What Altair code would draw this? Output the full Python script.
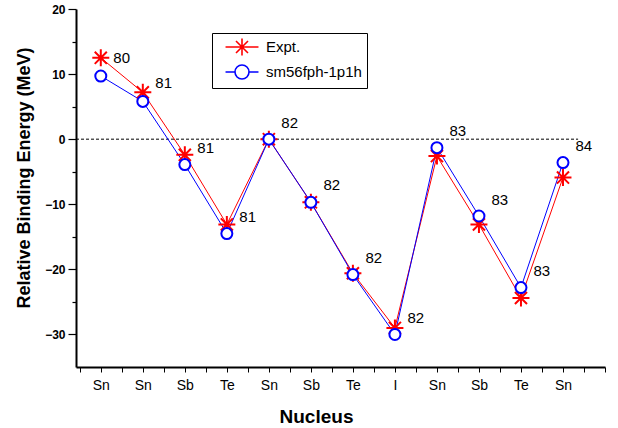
import json
import altair as alt
import pandas as pd

# ---- data ----
nuclei = ["Sn", "Sn", "Sb", "Te", "Sn", "Sb", "Te", "I", "Sn", "Sb", "Te", "Sn"]
neutrons = [80, 81, 81, 81, 82, 82, 82, 82, 83, 83, 83, 84]
expt = [12.5, 7.2, -2.4, -13.1, 0.0, -9.7, -20.6, -29.0, -2.6, -13.1, -24.4, -5.9]
model = [9.7, 5.8, -3.9, -14.5, 0.0, -9.7, -20.8, -30.0, -1.3, -11.8, -22.8, -3.6]
label_y = [12.5, 8.7, -1.3, -11.9, 2.5, -7.1, -18.2, -27.4, 1.3, -9.3, -20.2, -1.0]
series_names = ["Expt.", "sm56fph-1p1h"]
y_major = [-30, -20, -10, 0, 10, 20]
y_minor = [15, 5, -5, -15, -25]
x_ticks = [0.5 * i for i in range(1, 27)]

FONT = "Liberation Sans"
RED = "#FF0000"
BLUE = "#0000FF"

pos = list(range(1, len(nuclei) + 1))
df = pd.DataFrame({
    "pos": pos,
    "nucleus": nuclei,
    "N": [str(n) for n in neutrons],
    "expt": expt,
    "model": model,
    "label_y": label_y,
})

xs = alt.Scale(domain=[0.41, 13.0], nice=False, zero=False)
ys = alt.Scale(domain=[-35, 20], nice=False, zero=False)

label_expr = (
    "(datum.value % 1 === 0 && datum.value >= 1 && datum.value <= " + str(len(nuclei)) + ") ? "
    + json.dumps(nuclei) + "[datum.value - 1] : ''"
)

x_axis = alt.Axis(
    values=x_ticks, labelExpr=label_expr, grid=False, orient="bottom",
    domainColor="black", domainWidth=2, tickColor="black", tickWidth=1, tickSize=5,
    labelFont=FONT, labelFontSize=14, labelColor="black", labelPadding=6,
    labelFlush=False, labelOverlap=False,
    title="Nucleus", titleFont=FONT, titleFontSize=19, titleFontWeight="bold",
    titleColor="black", titleX=240, titleY=55, titleBaseline="alphabetic", titleAlign="center",
)
y_axis = alt.Axis(
    values=y_major, grid=False, orient="left",
    domainColor="black", domainWidth=2, tickColor="black", tickWidth=1.2, tickSize=8,
    labelFont=FONT, labelFontSize=12, labelFontWeight="bold", labelColor="black", labelPadding=3,
    title="Relative Binding Energy (MeV)", titleFont=FONT, titleFontSize=18,
    titleFontWeight="bold", titleColor="black", titleX=-47, titleY=168.5,
    titleBaseline="alphabetic", titleAlign="center",
)
y_minor_axis = alt.Axis(
    values=y_minor, grid=False, orient="left", domain=False, labels=False,
    tickColor="black", tickWidth=1.2, tickSize=4, title=None,
)

# dashed zero line
rule_df = pd.DataFrame({"x": [0.41], "x2": [12.36], "y": [0.0]})
rule = alt.Chart(rule_df).mark_rule(color="black", strokeWidth=1, strokeDash=[3, 2]).encode(
    x=alt.X("x:Q", scale=xs, axis=x_axis),
    x2="x2:Q",
    y=alt.Y("y:Q", scale=ys, axis=y_axis),
)

base = alt.Chart(df)
red_line = base.mark_line(color=RED, strokeWidth=1).encode(
    x=alt.X("pos:Q", scale=xs, axis=None), y=alt.Y("expt:Q", scale=ys, axis=None))
blue_line = base.mark_line(color=BLUE, strokeWidth=1).encode(
    x=alt.X("pos:Q", scale=xs, axis=None), y=alt.Y("model:Q", scale=ys, axis=None))

STAR = "M-1,0L1,0M0,-1L0,1M-0.71,-0.71L0.71,0.71M-0.71,0.71L0.71,-0.71"
stars = base.mark_point(shape=STAR, filled=False, stroke=RED, strokeWidth=2, size=289, opacity=1).encode(
    x=alt.X("pos:Q", scale=xs, axis=None), y=alt.Y("expt:Q", scale=ys, axis=None))
circles = base.mark_point(shape="circle", filled=True, fill="white", stroke=BLUE, strokeWidth=2,
                          size=121, opacity=1).encode(
    x=alt.X("pos:Q", scale=xs, axis=None), y=alt.Y("model:Q", scale=ys, axis=None))

labels = base.mark_text(align="left", baseline="middle", dx=12.5, font=FONT, fontSize=15,
                        color="black").encode(
    x=alt.X("pos:Q", scale=xs, axis=None), y=alt.Y("label_y:Q", scale=ys, axis=None), text="N:N")

# legend (symbols include the line through them, as in the reference)
STAR_LEG = ("M-2.06,0L2.06,0M0,-1.06L0,1.06M-0.75,-0.75L0.75,0.75M-0.75,0.75L0.75,-0.75")
CIRC_LEG = ("M-2.06,0L-0.875,0M0.875,0L2.06,0M-0.875,0A0.875,0.875,0,1,1,0.875,0"
            "A0.875,0.875,0,1,1,-0.875,0")
legend = alt.Legend(
    title=None, orient="none", legendX=136, legendY=24,
    strokeColor="black", fillColor="white", padding=5, cornerRadius=0,
    symbolSize=256, symbolStrokeWidth=1.6, symbolOffset=16,
    labelFont=FONT, labelFontSize=15, labelColor="black", labelOffset=15, rowPadding=2,
)
legend_df = pd.DataFrame({"series": series_names, "x": [None, None], "y": [None, None]})
legend_layer = alt.Chart(legend_df).mark_point(filled=False, opacity=1).encode(
    x=alt.X("x:Q", scale=xs, axis=None),
    y=alt.Y("y:Q", scale=ys, axis=y_minor_axis),
    color=alt.Color("series:N", scale=alt.Scale(domain=series_names, range=[RED, BLUE]), legend=legend),
    shape=alt.Shape("series:N", scale=alt.Scale(domain=series_names, range=[STAR_LEG, CIRC_LEG]),
                    legend=legend),
)

chart = alt.layer(rule, red_line, blue_line, stars, circles, labels, legend_layer).resolve_axis(
    x="independent", y="independent"
).properties(
    width=529, height=358,
    autosize=alt.AutoSizeParams(type="none"),
    padding={"left": 76, "top": 9, "right": 13, "bottom": 61},
    background="white",
).configure_view(stroke=None)

chart.save("out.html", embed_options={"renderer": "svg", "actions": False})
